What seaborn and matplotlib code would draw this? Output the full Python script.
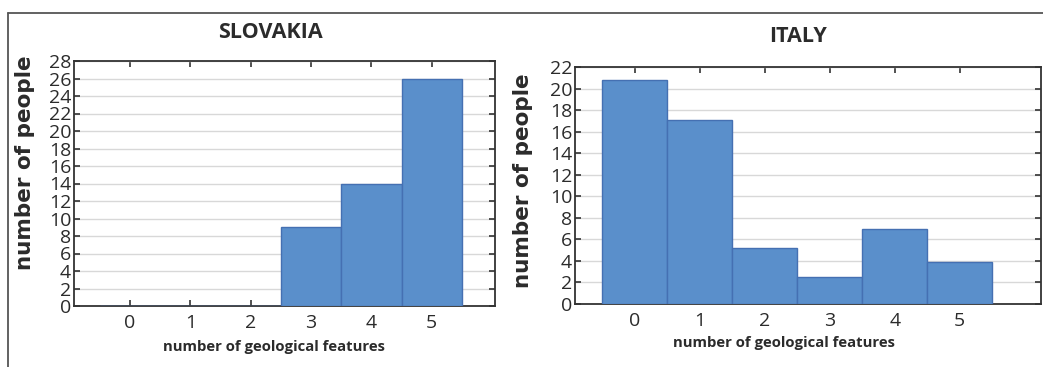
import matplotlib
matplotlib.use("Agg")
import matplotlib.pyplot as plt
from matplotlib.lines import Line2D
import seaborn as sns
import pandas as pd

# Survey results: how many geological features each respondent recognised
features = [0, 1, 2, 3, 4, 5]
slovakia_people = [0, 0, 0, 9, 14, 26]
italy_people = [20.8, 17.1, 5.2, 2.5, 7, 3.9]

sns.set_theme(style="white")
plt.rcParams["font.family"] = ["Open Sans", "DejaVu Sans"]

BAR_FACE = "#5a8fcb"
BAR_EDGE = "#4570b2"
TEXT = "#2b2b2b"

fig = plt.figure(figsize=(10.43, 3.67), dpi=100)
W, H = 1043, 367


def axes_px(left, top, right, bottom):
    return fig.add_axes([left / W, 1 - bottom / H, (right - left) / W, (bottom - top) / H])


def draw_panel(ax, counts, title, ymax, xlim, title_xy, xlabel_xy, ylabel_xy):
    df = pd.DataFrame({"features": features, "people": counts})
    sns.histplot(data=df, x="features", weights="people", discrete=True, shrink=1,
                 color=BAR_FACE, edgecolor=BAR_EDGE, linewidth=1.0, alpha=1,
                 ax=ax, zorder=3)
    ax.set_xlim(*xlim)
    ax.set_ylim(0, ymax)
    ax.set_xticks(features)
    ax.set_yticks(range(0, ymax + 1, 2))
    ax.yaxis.grid(True, color="#d8d8d8", linewidth=1.0, zorder=0)
    ax.xaxis.grid(False)
    ax.set_axisbelow(True)
    ax.tick_params(axis="both", which="both", direction="in", length=4, width=1.2,
                   color="#333333", labelsize=14, labelcolor=TEXT,
                   top=True, right=True, bottom=True, left=True)
    ax.tick_params(axis="x", pad=6)
    ax.tick_params(axis="y", pad=2)
    for sp in ax.spines.values():
        sp.set_visible(True)
        sp.set_color("#333333")
        sp.set_linewidth(1.3)
    ax.set_xlabel("")
    ax.set_ylabel("")
    fig.text(title_xy[0] / W, 1 - title_xy[1] / H, title, ha="center", va="center",
             fontsize=15.5, fontweight="bold", color=TEXT)
    fig.text(xlabel_xy[0] / W, 1 - xlabel_xy[1] / H, "number of geological features",
             ha="center", va="center", fontsize=10.7, fontweight="bold", color=TEXT)
    fig.text(ylabel_xy[0] / W, 1 - ylabel_xy[1] / H, "number of people", rotation=90,
             ha="center", va="center", fontsize=15.5, fontweight="bold", color=TEXT,
             family="DejaVu Sans")


ax1 = axes_px(74, 61, 495, 306)
draw_panel(ax1, slovakia_people, "SLOVAKIA", 28, (-0.93, 6.05),
           (270, 33), (274, 347), (25, 163))

ax2 = axes_px(575, 67, 1041, 304)
draw_panel(ax2, italy_people, "ITALY", 22, (-0.92, 6.25),
           (798, 37), (784, 343), (523, 181))

# Outer frame: left and top rules
fig.add_artist(Line2D([8 / W, 8 / W], [0, 1 - 13 / H], transform=fig.transFigure,
                      color="#555555", linewidth=1.3))
fig.add_artist(Line2D([8 / W, 1], [1 - 13 / H, 1 - 13 / H], transform=fig.transFigure,
                      color="#555555", linewidth=1.3))

fig.savefig("out.png", dpi=100, facecolor="white")
